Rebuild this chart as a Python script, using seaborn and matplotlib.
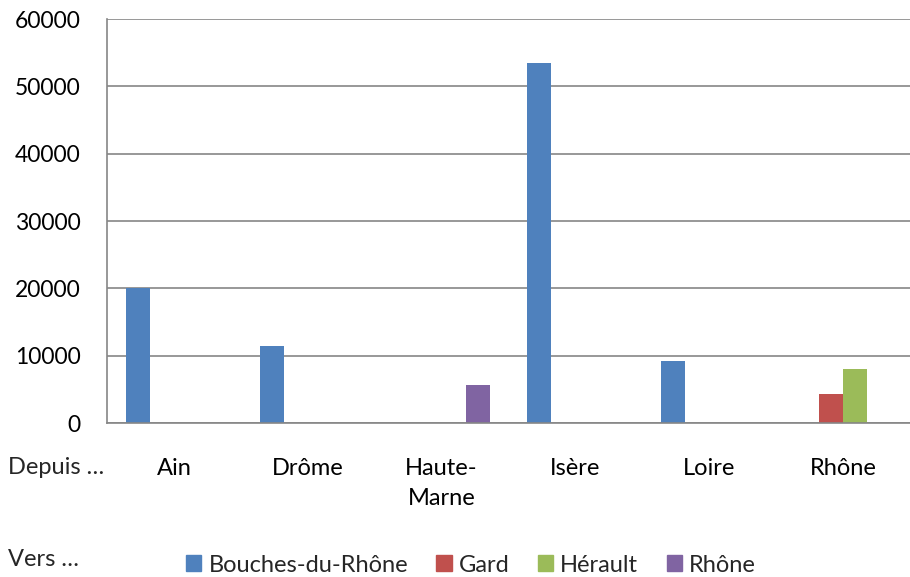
import matplotlib
matplotlib.use("Agg")
import matplotlib.pyplot as plt
import seaborn as sns
import pandas as pd
import numpy as np

# Origin departments (x axis) and destination departments (series)
origins = ["Ain", "Drôme", "Haute-Marne", "Isère", "Loire", "Rhône"]
origin_labels = ["Ain", "Drôme", "Haute-\nMarne", "Isère", "Loire", "Rhône"]
destinations = ["Bouches-du-Rhône", "Gard", "Hérault", "Rhône"]

bouches_du_rhone = [20000, 11400, 0, 53400, 9200, 0]
gard = [0, 0, 0, 0, 0, 4300]
herault = [0, 0, 0, 0, 0, 8000]
rhone = [0, 0, 5600, 0, 0, 0]

colors = ["#4F81BD", "#C0504D", "#9BBB59", "#8064A2"]
yticks = [0, 10000, 20000, 30000, 40000, 50000, 60000]

series = [bouches_du_rhone, gard, herault, rhone]
df = pd.DataFrame(
    [(o, d, v) for d, vals in zip(destinations, series) for o, v in zip(origins, vals)],
    columns=["origine", "destination", "valeur"],
)

sns.set_style("white")
plt.rcParams["font.family"] = ["Lato", "DejaVu Sans"]

W, H = 910, 577
FS = 17
fig = plt.figure(figsize=(W / 100, H / 100), dpi=100)
ax = fig.add_axes([107 / W, 1 - 423 / H, (W - 107) / W, (423 - 19) / H])

sns.barplot(
    data=df, x="origine", y="valeur", hue="destination",
    order=origins, hue_order=destinations, palette=colors,
    width=0.72, linewidth=0, saturation=1, ax=ax, legend=False,
)

grid_c = "#868686"
ax.set_ylim(0, 60000)
ax.set_xlim(-0.5, 5.5)
ax.set_yticks(yticks)
ax.set_yticklabels([str(v) for v in yticks], fontsize=16.5, color="black")
ax.yaxis.grid(True, color=grid_c, linewidth=1.2)
ax.set_axisbelow(True)

ax.set_xticks(range(len(origins)))
ax.set_xticklabels(origin_labels, fontsize=FS, color="black", linespacing=1.55)
ax.set_xticks(np.arange(-0.5, 6.0, 1.0), minor=True)
ax.tick_params(axis="x", which="major", length=0, pad=25)
ax.tick_params(axis="x", which="minor", length=8, width=1.2, color=grid_c, direction="out")
ax.tick_params(axis="y", length=7, width=1.2, color=grid_c, direction="out", pad=12)
ax.set_xlabel("")
ax.set_ylabel("")

for s in ["top", "right"]:
    ax.spines[s].set_visible(False)
for s in ["left", "bottom"]:
    ax.spines[s].set_color(grid_c)
    ax.spines[s].set_linewidth(1.2)

fig.text(8 / W, 1 - 467 / H, "Depuis …", fontsize=FS, va="center", ha="left")
fig.text(8 / W, 1 - 560 / H, "Vers …", fontsize=FS, va="center", ha="left")

handles = [plt.Rectangle((0, 0), 1, 1, color=c) for c in colors]
fig.legend(
    handles, destinations, loc="center", bbox_to_anchor=(471 / W, 1 - 565 / H),
    ncol=4, frameon=False, fontsize=FS, handlelength=0.65, handleheight=0.65,
    handletextpad=0.3, columnspacing=1.2, borderaxespad=0,
)

fig.savefig("out.png", dpi=100)
